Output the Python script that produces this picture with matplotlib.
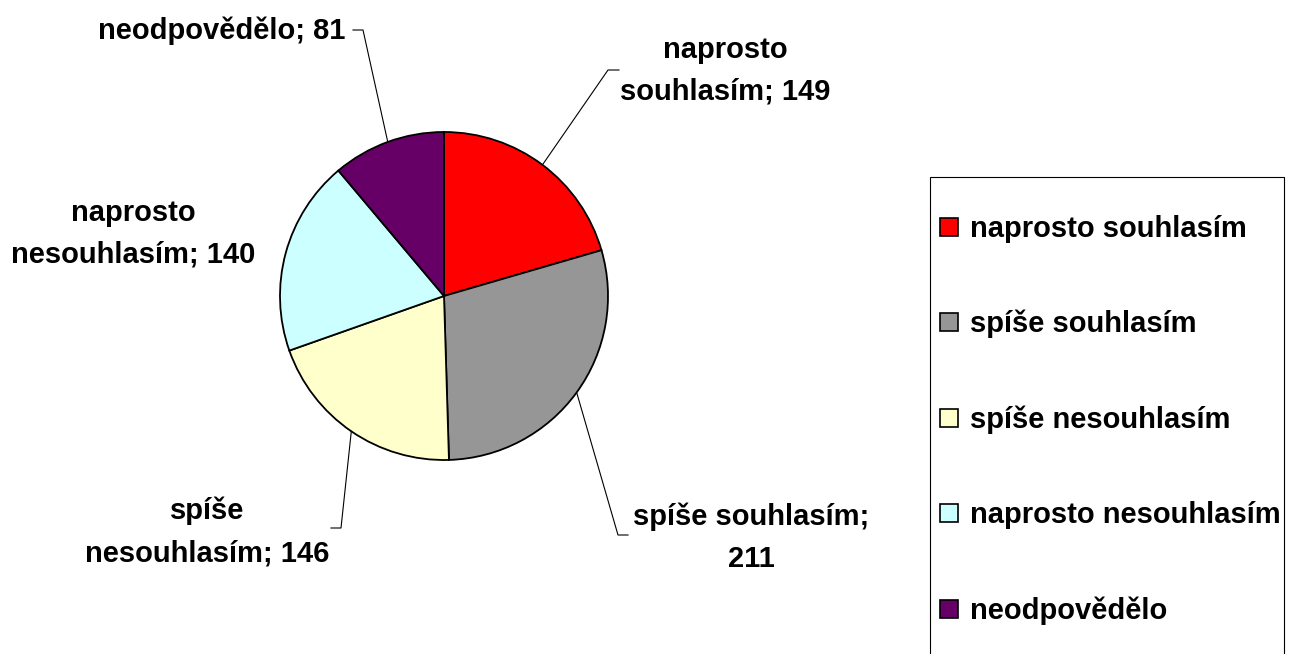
import numpy as np
import matplotlib
matplotlib.use("Agg")
import matplotlib.pyplot as plt
from matplotlib.patches import Rectangle

categories = ["naprosto souhlasím", "spíše souhlasím", "spíše nesouhlasím",
              "naprosto nesouhlasím", "neodpovědělo"]
values = [149, 211, 146, 140, 81]
colors = ["#FF0000", "#969696", "#FFFFCC", "#CCFFFF", "#660066"]
pie_labels = ["naprosto\nsouhlasím; 149", "spíše souhlasím;\n211",
              "spíše\nnesouhlasím; 146", "naprosto\nnesouhlasím; 140",
              "neodpovědělo; 81"]

W, H = 1290, 654
plt.rcParams['font.family'] = ['Liberation Sans', 'DejaVu Sans']
fig = plt.figure(figsize=(W / 100, H / 100), dpi=100)
ax = fig.add_axes([0, 0, 1, 1])

def Y(y):
    return H - y

cx, cy, R = 444, 296, 164
wedges, _ = ax.pie(values, colors=colors, startangle=90, counterclock=False,
                   center=(cx, Y(cy)), radius=R,
                   wedgeprops=dict(edgecolor="black", linewidth=1.3))
ax.set_xlim(0, W)
ax.set_ylim(0, H)
ax.set_aspect("equal")
ax.axis("off")

FS = 21
# label text centers (pixel coords) and leader elbows
label_pos = [(725, 71), (751, 538), (207, 532), (133, 234), (222, 31)]
elbows = [[(608, 70), (619, 70)],
          [(618, 535), (628, 535)],
          [(341, 528), (331, 528)],
          None,
          [(363, 30), (353, 30)]]

for w, lab, pos, elb in zip(wedges, pie_labels, label_pos, elbows):
    mid = np.deg2rad((w.theta1 + w.theta2) / 2)
    ex, ey = cx + R * np.cos(mid), Y(cy) + R * np.sin(mid)
    if elb is not None:
        xs = [ex] + [p[0] for p in elb]
        ys = [ey] + [Y(p[1]) for p in elb]
        ax.plot(xs, ys, color="black", linewidth=0.8)
    ax.text(pos[0], Y(pos[1]), lab, ha="center", va="center",
            multialignment="center", fontsize=FS, fontweight="bold",
            linespacing=1.62)

# legend box
ax.add_patch(Rectangle((930, Y(700)), 1284 - 930, 700 - 177,
                       facecolor="white", edgecolor="black", linewidth=0.8,
                       clip_on=False))
row_y = [227, 322, 418, 513, 609]
for cat, col, ry in zip(categories, colors, row_y):
    ax.add_patch(Rectangle((940, Y(ry + 9)), 18, 18, facecolor=col,
                           edgecolor="black", linewidth=1.2))
    ax.text(970, Y(ry + 10), cat, ha="left", va="baseline",
            fontsize=FS, fontweight="bold")

fig.savefig("out.png", dpi=100)
